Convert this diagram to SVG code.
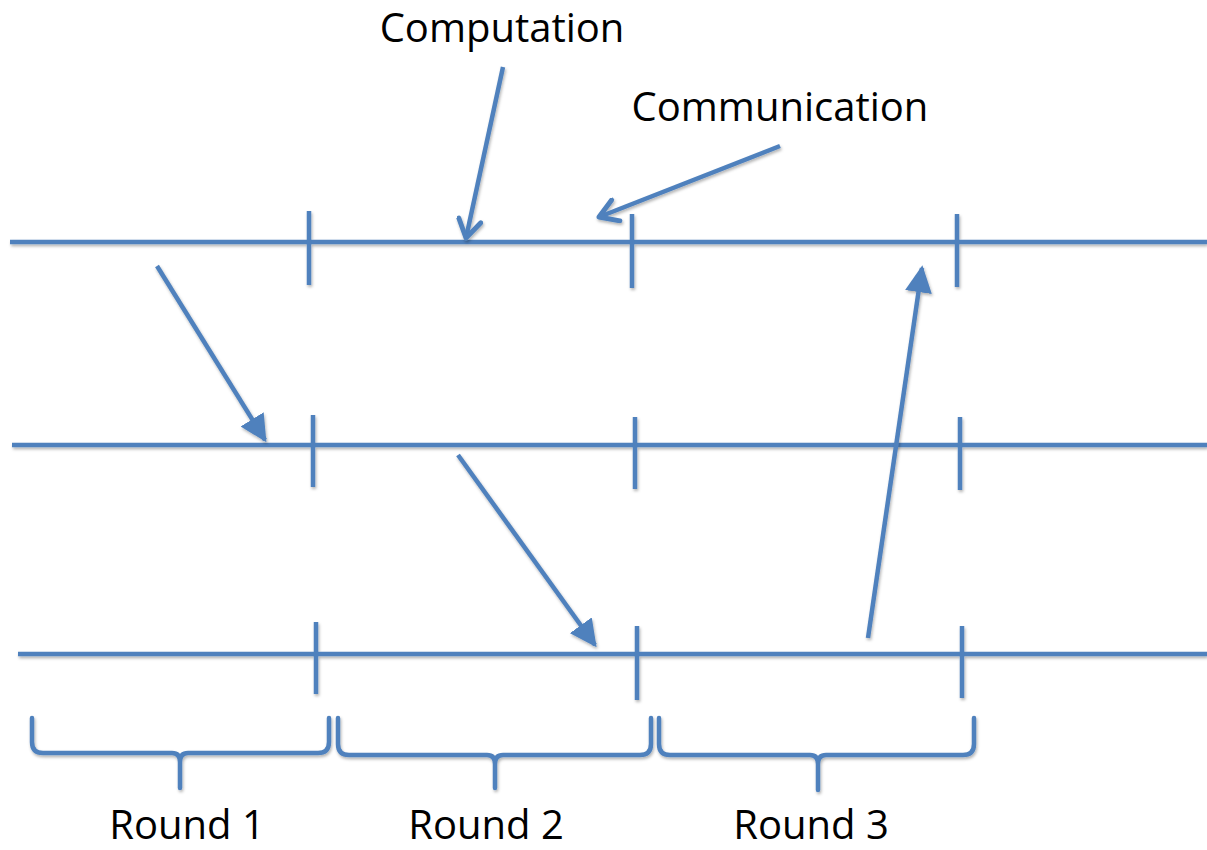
<svg xmlns="http://www.w3.org/2000/svg" width="1207" height="850" viewBox="0 0 1207 850">
  <style>
    .ln { stroke: #4f81bd; stroke-width: 4.5; fill: none; stroke-linecap: butt; }
    .ar { stroke: #4f81bd; stroke-width: 4.5; fill: none; }
    .br { stroke: #4f81bd; stroke-width: 4.5; fill: none; stroke-linecap: round; stroke-linejoin: round; }
    .lbl { font-family: "Open Sans", "Liberation Sans", sans-serif; font-size: 40px; fill: #000; }
  </style>
  <defs>
    <filter id="shadow" x="-5%" y="-5%" width="110%" height="120%">
      <feDropShadow dx="1" dy="2" stdDeviation="1.5" flood-color="#000" flood-opacity="0.3"/>
    </filter>
    <marker id="filled" viewBox="0 0 10 10" refX="9" refY="5" markerWidth="6" markerHeight="6" markerUnits="strokeWidth" orient="auto">
      <path d="M0,0 L10,5 L0,10 z" fill="#4f81bd"/>
    </marker>
    <marker id="open" viewBox="0 0 12 12" refX="10" refY="6" markerWidth="6" markerHeight="6" markerUnits="strokeWidth" orient="auto">
      <path d="M2,1 L10,6 L2,11" fill="none" stroke="#4f81bd" stroke-width="2.2" stroke-linecap="round" stroke-linejoin="round"/>
    </marker>
  </defs>

  <!-- process timelines with round boundaries -->
  <g id="timeline-1" filter="url(#shadow)">
    <line class="ln" x1="10" y1="242" x2="1207" y2="242"/>
    <line class="ln" x1="309" y1="211" x2="309" y2="285"/>
    <line class="ln" x1="632" y1="214" x2="632" y2="288"/>
    <line class="ln" x1="957" y1="214" x2="957" y2="287"/>
  </g>
  <g id="timeline-2" filter="url(#shadow)">
    <line class="ln" x1="12" y1="445" x2="1207" y2="445"/>
    <line class="ln" x1="313" y1="415" x2="313" y2="487"/>
    <line class="ln" x1="635" y1="417" x2="635" y2="489"/>
    <line class="ln" x1="960" y1="417" x2="960" y2="490"/>
  </g>
  <g id="timeline-3" filter="url(#shadow)">
    <line class="ln" x1="18" y1="654" x2="1207" y2="654"/>
    <line class="ln" x1="316" y1="622" x2="316" y2="694"/>
    <line class="ln" x1="637" y1="626" x2="637" y2="700"/>
    <line class="ln" x1="962" y1="626" x2="962" y2="698"/>
  </g>

  <!-- messages and callouts -->
  <g id="connectors" filter="url(#shadow)">
    <line class="ar" x1="503" y1="67" x2="466" y2="238" marker-end="url(#open)"/>
    <line class="ar" x1="780" y1="146" x2="599" y2="217" marker-end="url(#open)"/>
    <line class="ar" x1="157" y1="266" x2="265" y2="440" marker-end="url(#filled)"/>
    <line class="ar" x1="458" y1="455" x2="595" y2="645" marker-end="url(#filled)"/>
    <line class="ar" x1="868" y1="638" x2="922" y2="268" marker-end="url(#filled)"/>
  </g>

  <!-- round braces -->
  <g id="brace-1" filter="url(#shadow)">
    <path class="br" d="M32,718 V742 Q32,753 43,753 H172 Q180,753 180,762 V788 M180,762 Q180,753 188,753 H318 Q329,753 329,742 V718"/>
  </g>
  <g id="brace-2" filter="url(#shadow)">
    <path class="br" d="M338,718 V744 Q338,755 349,755 H487 Q495,755 495,764 V788 M495,764 Q495,755 503,755 H640 Q651,755 651,744 V718"/>
  </g>
  <g id="brace-3" filter="url(#shadow)">
    <path class="br" d="M659,718 V744 Q659,755 670,755 H810 Q818,755 818,764 V790 M818,764 Q818,755 826,755 H963 Q974,755 974,744 V718"/>
  </g>

  <!-- labels -->
  <g id="label-computation"><text class="lbl" x="502" y="42" text-anchor="middle">Computation</text></g>
  <g id="label-communication"><text class="lbl" x="780" y="121" text-anchor="middle">Communication</text></g>
  <g id="label-round-1"><text class="lbl" x="187" y="839" text-anchor="middle">Round 1</text></g>
  <g id="label-round-2"><text class="lbl" x="486" y="839" text-anchor="middle">Round 2</text></g>
  <g id="label-round-3"><text class="lbl" x="811" y="839" text-anchor="middle">Round 3</text></g>
</svg>
